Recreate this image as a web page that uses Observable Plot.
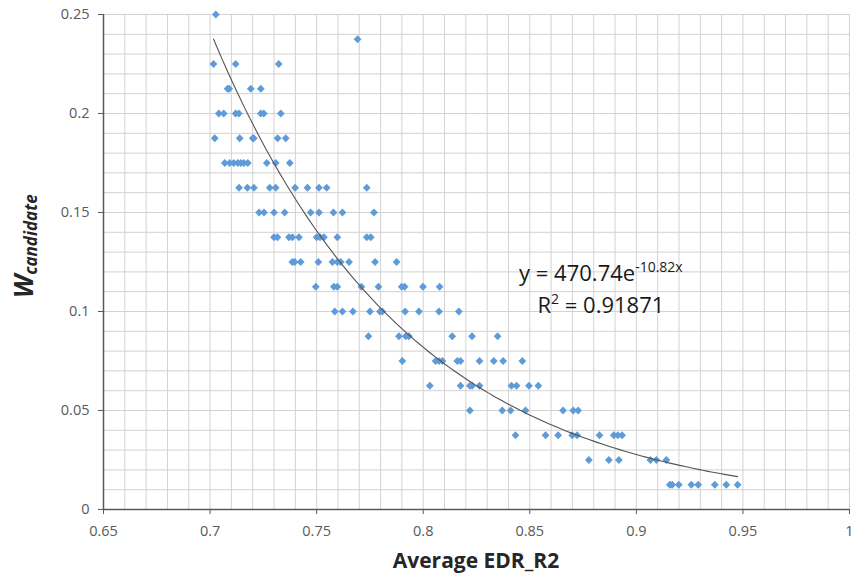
<!DOCTYPE html>
<html>
<head>
<meta charset="utf-8">
<script src="https://cdn.jsdelivr.net/npm/d3@7"></script>
<script src="https://cdn.jsdelivr.net/npm/@observablehq/plot@0.6"></script>
<style>
  body { margin: 0; background: #fff; }
  #chart svg { display: block; }
</style>
</head>
<body>
<div id="chart"></div>
<script>
// W_candidate levels (y) and the Average EDR_R2 values (x) read at each level
const wLevels = [0.25, 0.2375, 0.225, 0.2125, 0.2, 0.1875, 0.175, 0.1625, 0.15, 0.1375, 0.125, 0.1125, 0.1, 0.0875, 0.075, 0.0625, 0.05, 0.0375, 0.025, 0.0125];
const edrByLevel = [
  [0.7027],
  [0.7692],
  [0.7016, 0.7120, 0.7322],
  [0.7082, 0.7090, 0.7191, 0.7238],
  [0.7041, 0.7064, 0.7120, 0.7135, 0.7238, 0.7252, 0.7332],
  [0.7022, 0.7139, 0.7200, 0.7205, 0.7317, 0.7355],
  [0.7069, 0.7092, 0.7111, 0.7130, 0.7144, 0.7158, 0.7177, 0.7266, 0.7308, 0.7374],
  [0.7136, 0.7175, 0.7206, 0.7280, 0.7308, 0.7399, 0.7457, 0.7511, 0.7547, 0.7735],
  [0.7230, 0.7253, 0.7300, 0.7350, 0.7472, 0.7511, 0.7579, 0.7621, 0.7769],
  [0.7300, 0.7316, 0.7370, 0.7386, 0.7417, 0.7500, 0.7516, 0.7534, 0.7597, 0.7735, 0.7754],
  [0.7386, 0.7397, 0.7425, 0.7508, 0.7574, 0.7597, 0.7613, 0.7652, 0.7774, 0.7875],
  [0.7496, 0.7581, 0.7597, 0.7710, 0.7790, 0.7899, 0.7913, 0.7999, 0.8077],
  [0.7585, 0.7621, 0.7670, 0.7750, 0.7797, 0.7808, 0.7915, 0.7980, 0.8074, 0.8167],
  [0.7743, 0.7886, 0.7918, 0.7933, 0.8136, 0.8229, 0.8349],
  [0.7902, 0.8058, 0.8074, 0.8090, 0.8160, 0.8175, 0.8264, 0.8331, 0.8375, 0.8465],
  [0.8031, 0.8175, 0.8219, 0.8230, 0.8264, 0.8414, 0.8438, 0.8496, 0.8540],
  [0.8219, 0.8371, 0.8410, 0.8480, 0.8656, 0.8704, 0.8727],
  [0.8433, 0.8574, 0.8633, 0.8699, 0.8722, 0.8827, 0.8894, 0.8913, 0.8933],
  [0.8777, 0.8871, 0.8918, 0.9066, 0.9094, 0.9141],
  [0.9157, 0.9168, 0.9199, 0.9258, 0.9290, 0.9368, 0.9422, 0.9475]
];

// Axis ticks
const xTicks = [0.65, 0.7, 0.75, 0.8, 0.85, 0.9, 0.95, 1];
const yTicks = [0, 0.05, 0.1, 0.15, 0.2, 0.25];
const xGrid = d3.range(65, 101).map(d => d / 100);
const yGrid = d3.range(0, 26).map(d => d / 100);

// Exponential trendline shown on the chart: y = 470.74 e^(-10.82 x)
const trendA = 470.74;
const trendB = -10.82;
const trendSpan = [0.7016, 0.9475];
const equationText = ["y = 470.74e", "-10.82x"];
const r2Text = ["R", "2", " = 0.91871"];

const points = wLevels.flatMap((w, i) => edrByLevel[i].map(x => ({x, w})));
const trend = d3.range(0, 121).map(i => {
  const x = trendSpan[0] + (trendSpan[1] - trendSpan[0]) * i / 120;
  return {x, w: trendA * Math.exp(trendB * x)};
});

const FONT = "'Open Sans', 'DejaVu Sans', sans-serif";

const plot = Plot.plot({
  width: 854,
  height: 573,
  marginLeft: 103,
  marginRight: 5,
  marginTop: 14,
  marginBottom: 64,
  style: {fontFamily: FONT, fontSize: "14.5px", color: "#595959", background: "#fff"},
  x: {domain: [0.65, 1]},
  y: {domain: [0, 0.25]},
  marks: [
    Plot.gridX(xGrid, {stroke: "#d2d2d2", strokeOpacity: 1, strokeWidth: 1}),
    Plot.gridY(yGrid, {stroke: "#d2d2d2", strokeOpacity: 1, strokeWidth: 1}),
    Plot.axisX(xTicks, {tickSize: 5, tickPadding: 11, label: null, fontSize: 14.5, tickFormat: d3.format("")}),
    Plot.axisY(yTicks, {tickSize: 5, tickPadding: 9, label: null, fontSize: 14.5, tickFormat: d3.format("")}),
    Plot.ruleX([0.65], {stroke: "#595959", strokeWidth: 1.5}),
    Plot.ruleY([0], {stroke: "#595959", strokeWidth: 1.5}),
    Plot.dot(points, {x: "x", y: "w", symbol: "diamond2", r: 3.5, fill: "#5f9bd8", stroke: "none"}),
    Plot.line(trend, {x: "x", y: "w", stroke: "#555555", strokeWidth: 1.1, curve: "linear"})
  ]
});

const svg = d3.select(plot);
const sx = plot.scale("x"), sy = plot.scale("y");

// Trendline equation label
const eqX = sx.apply(0.8836);
const eq = svg.append("text")
  .attr("x", eqX).attr("y", 281)
  .attr("text-anchor", "middle")
  .attr("fill", "#1a1a1a")
  .style("font-family", FONT).style("font-size", "22px");
eq.append("tspan").text(equationText[0]);
eq.append("tspan").attr("dy", -9).style("font-size", "14px").text(equationText[1]);

const r2 = svg.append("text")
  .attr("x", eqX).attr("y", 313)
  .attr("text-anchor", "middle")
  .attr("fill", "#1a1a1a")
  .style("font-family", FONT).style("font-size", "22px");
r2.append("tspan").text(r2Text[0]);
r2.append("tspan").attr("dy", -9).style("font-size", "14px").text(r2Text[1]);
r2.append("tspan").attr("dy", 9).text(r2Text[2]);

// X axis title
svg.append("text")
  .attr("x", (sx.range[0] + sx.range[1]) / 2).attr("y", 568)
  .attr("text-anchor", "middle")
  .attr("fill", "#262626")
  .style("font-family", FONT).style("font-size", "21px").style("font-weight", "bold")
  .text("Average EDR_R2");

// Y axis title with subscript
const yt = svg.append("text")
  .attr("transform", "translate(33,298) rotate(-90)")
  .attr("text-anchor", "start")
  .attr("fill", "#262626")
  .style("font-family", FONT).style("font-weight", "bold").style("font-style", "italic");
yt.append("tspan").style("font-size", "26px").text("W");
yt.append("tspan").attr("dy", 4).style("font-size", "17px").text("candidate");

document.getElementById("chart").appendChild(plot);
</script>
</body>
</html>
